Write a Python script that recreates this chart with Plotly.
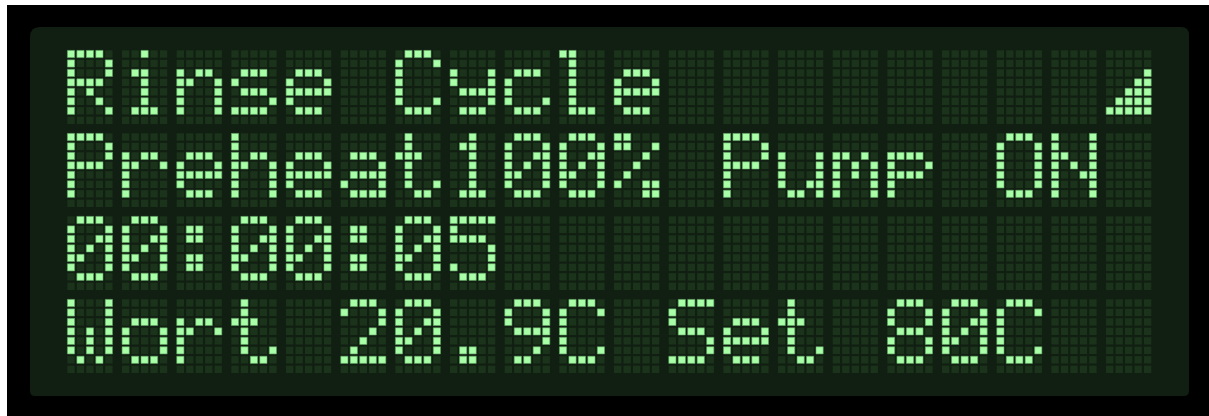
import plotly.graph_objects as go

# the four display lines, \x01 is the custom signal-bars character
lines = ["Rinse Cycle        \x01",
         "Preheat100% Pump ON ",
         "00:00:05            ",
         "Wort 20.9C Set 80C  "]

# 5x7 character rom, row 8 of each cell stays dark
glyphs = {
    " ": ["00000", "00000", "00000", "00000", "00000", "00000", "00000"],
    "R": ["11110", "10001", "10001", "11110", "10100", "10010", "10001"],
    "P": ["11110", "10001", "10001", "11110", "10000", "10000", "10000"],
    "C": ["01110", "10001", "10000", "10000", "10000", "10001", "01110"],
    "O": ["01110", "10001", "10001", "10001", "10001", "10001", "01110"],
    "N": ["10001", "10001", "11001", "10101", "10011", "10001", "10001"],
    "W": ["10001", "10001", "10001", "10101", "10101", "10101", "01010"],
    "S": ["01111", "10000", "10000", "01110", "00001", "00001", "11110"],
    "i": ["00100", "00000", "01100", "00100", "00100", "00100", "01110"],
    "n": ["00000", "00000", "10110", "11001", "10001", "10001", "10001"],
    "s": ["00000", "00000", "01110", "10000", "01110", "00001", "11110"],
    "e": ["00000", "00000", "01110", "10001", "11111", "10000", "01110"],
    "y": ["00000", "00000", "10001", "10001", "01111", "00001", "01110"],
    "c": ["00000", "00000", "01110", "10000", "10000", "10001", "01110"],
    "l": ["11000", "01000", "01000", "01000", "01000", "01000", "01110"],
    "r": ["00000", "00000", "10110", "11001", "10000", "10000", "10000"],
    "h": ["10000", "10000", "10110", "11001", "10001", "10001", "10001"],
    "a": ["00000", "00000", "01110", "00001", "01111", "10001", "01111"],
    "t": ["01000", "01000", "11100", "01000", "01000", "01001", "00110"],
    "u": ["00000", "00000", "10001", "10001", "10001", "10011", "01101"],
    "m": ["00000", "00000", "11010", "10101", "10101", "10001", "10001"],
    "p": ["00000", "00000", "11110", "10001", "11110", "10000", "10000"],
    "o": ["00000", "00000", "01110", "10001", "10001", "10001", "01110"],
    "0": ["01110", "10001", "10011", "10101", "11001", "10001", "01110"],
    "1": ["00100", "01100", "00100", "00100", "00100", "00100", "01110"],
    "2": ["01110", "10001", "00001", "00010", "00100", "01000", "11111"],
    "5": ["11111", "10000", "11110", "00001", "00001", "10001", "01110"],
    "8": ["01110", "10001", "10001", "01110", "10001", "10001", "01110"],
    "9": ["01110", "10001", "10001", "01111", "00001", "00010", "01100"],
    ":": ["00000", "01100", "01100", "00000", "01100", "01100", "00000"],
    ".": ["00000", "00000", "00000", "00000", "00000", "01100", "01100"],
    "%": ["11000", "11001", "00010", "00100", "01000", "10011", "00011"],
    "\x01": ["00000", "00000", "00001", "00011", "00111", "01111", "11111"],
}

# display geometry in page pixels
x0, y0 = 71.0, 54.0
dot_pitch = 9.47
char_pitch = 54.67
line_pitch = 83.0

on_x, on_y, off_x, off_y = [], [], [], []
for li, text in enumerate(lines):
    for ci, ch in enumerate(text):
        rows = glyphs[ch] + ["00000"]
        for ri, row in enumerate(rows):
            for di, bit in enumerate(row):
                x = x0 + ci * char_pitch + di * dot_pitch
                y = y0 + li * line_pitch + ri * dot_pitch
                if bit == "1":
                    on_x.append(x)
                    on_y.append(y)
                else:
                    off_x.append(x)
                    off_y.append(y)

fig = go.Figure()
fig.add_trace(go.Scatter(x = off_x, y = off_y, mode = "markers", hoverinfo = "skip",
                         marker = dict(symbol = "square", size = 7.4, color = "#1A331A",
                                       line = dict(width = 0))))
fig.add_trace(go.Scatter(x = on_x, y = on_y, mode = "markers", hoverinfo = "skip",
                         marker = dict(symbol = "square", size = 7.2, color = "#A8FFA8",
                                       line = dict(color = "#5FA461", width = 0.6))))

# black bezel and the rounded glass
fig.add_shape(type = "rect", x0 = 7, x1 = 1209, y0 = 5, y1 = 416, layer = "below",
              fillcolor = "#000000", line_width = 0)
panel = ("M 40 27 L 1181 27 Q 1189 27 1189 35 L 1189 391 Q 1189 396 1184 396 "
         "L 35 396 Q 30 396 30 391 L 30 37 Q 30 27 40 27 Z")
fig.add_shape(type = "path", path = panel, layer = "below",
              fillcolor = "#111E12", line_width = 0)

fig.update_layout(width = 1209, height = 416, showlegend = False,
                  margin = dict(l = 0, r = 0, t = 0, b = 0),
                  paper_bgcolor = "white", plot_bgcolor = "white")
fig.update_xaxes(range = [0, 1209], visible = False, fixedrange = True)
fig.update_yaxes(range = [416, 0], visible = False, fixedrange = True)

fig.write_html("out.html", config = dict(displayModeBar = False),
               post_script = "document.body.style.margin='0';document.body.style.overflow='hidden';")
